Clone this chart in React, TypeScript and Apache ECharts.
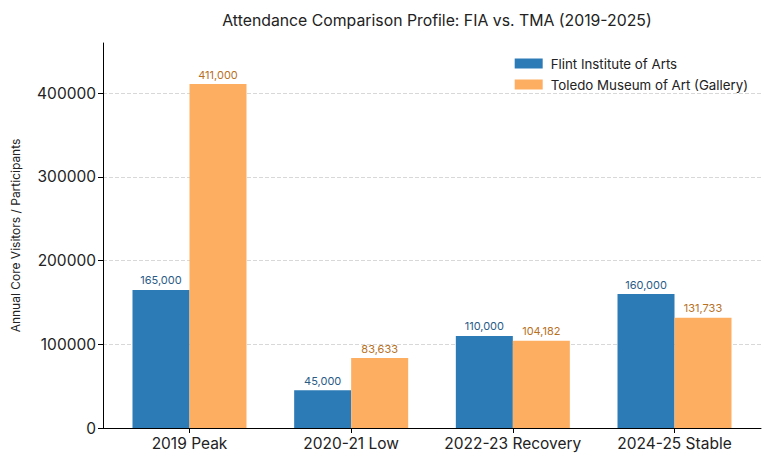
import React, { useEffect, useRef } from "react";
import * as echarts from "echarts";

const categories = ["2019 Peak", "2020-21 Low", "2022-23 Recovery", "2024-25 Stable"];
const fiaValues = [165000, 45000, 110000, 160000];
const tmaValues = [411000, 83633, 104182, 131733];
const seriesNames = ["Flint Institute of Arts", "Toledo Museum of Art (Gallery)"];
const yTicks = [0, 100000, 200000, 300000, 400000];

const FONT = "Inter, 'Noto Sans', sans-serif";

export default function App() {
  const ref = useRef<HTMLDivElement>(null);
  useEffect(() => {
    if (!ref.current) return;
    const chart = echarts.init(ref.current, null, { renderer: "svg" });
    const catIdx = categories.map((_, i) => i);
    const fmt = (v: number) => v.toLocaleString("en-US");
    chart.setOption({
      animation: false,
      textStyle: { fontFamily: FONT },
      title: {
        text: "Attendance Comparison Profile: FIA vs. TMA (2019-2025)",
        left: 432,
        textAlign: "center",
        top: 7,
        textStyle: { fontFamily: FONT, fontSize: 15.8, fontWeight: "normal", color: "#222" },
      },
      legend: {
        orient: "vertical",
        right: 18,
        top: 52,
        itemWidth: 28,
        itemHeight: 10,
        itemGap: 8,
        icon: "rect",
        textStyle: { fontFamily: FONT, fontSize: 13.3, color: "#222", padding: [0, 0, 0, 3] },
        data: seriesNames,
      },
      grid: { left: 103, right: 10, top: 43, bottom: 36 },
      xAxis: {
        type: "value",
        min: -0.535,
        max: 3.535,
        splitLine: { show: false },
        axisLine: { show: true, onZero: false, lineStyle: { color: "#000", width: 1 } },
        axisTick: { show: true, customValues: catIdx, length: 5, lineStyle: { color: "#000" } },
        axisLabel: {
          customValues: catIdx,
          formatter: (v: number) => categories[Math.round(v)] ?? "",
          fontFamily: FONT,
          fontSize: 15.5,
          color: "#222",
          margin: 7,
        },
      },
      yAxis: {
        type: "value",
        min: 0,
        max: 460000,
        interval: 100000,
        name: "Annual Core Visitors / Participants",
        nameLocation: "middle",
        nameGap: 82,
        nameTextStyle: { fontFamily: FONT, fontSize: 12, color: "#222" },
        axisLine: { show: true, onZero: false, lineStyle: { color: "#000", width: 1 } },
        axisTick: { show: true, length: 5, lineStyle: { color: "#000" }, customValues: yTicks },
        axisLabel: {
          customValues: yTicks,
          formatter: (v: number) => String(v),
          fontFamily: FONT,
          fontSize: 15.5,
          color: "#222",
          margin: 7,
        },
        splitLine: { show: true, lineStyle: { type: "dashed", color: "#d8d8d8", width: 1 } },
      },
      series: [
        {
          name: seriesNames[0],
          type: "bar",
          barWidth: 57,
          barGap: "0%",
          data: fiaValues.map((v, i) => [i, v]),
          itemStyle: { color: "#2c7bb6" },
          label: {
            show: true,
            position: "top",
            distance: 4,
            formatter: (p: any) => fmt(p.value[1]),
            fontFamily: FONT,
            fontSize: 11,
            color: "#2a5b87",
          },
        },
        {
          name: seriesNames[1],
          type: "bar",
          barWidth: 57,
          barGap: "0%",
          data: tmaValues.map((v, i) => [i, v]),
          itemStyle: { color: "#fdae61" },
          label: {
            show: true,
            position: "top",
            distance: 4,
            formatter: (p: any) => fmt(p.value[1]),
            fontFamily: FONT,
            fontSize: 11,
            color: "#b8711f",
          },
        },
      ],
    });
    return () => chart.dispose();
  }, []);
  return <div ref={ref} style={{ width: 771, height: 464, position: "absolute", left: 0, top: 0 }} />;
}
